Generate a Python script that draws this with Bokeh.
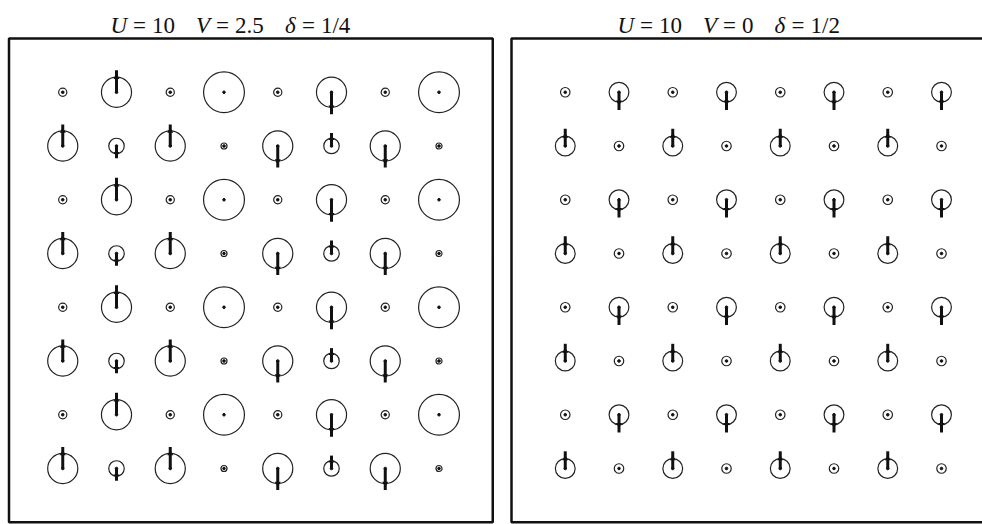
import numpy as np
from bokeh.plotting import figure
from bokeh.layouts import row
from bokeh.models import Range1d
from bokeh.core.properties import value
from bokeh.embed import file_html
from bokeh.resources import INLINE

# 8x8 lattice: column index 1..8, row index listed from top (8) to bottom (1)
lattice_cols = [1, 2, 3, 4, 5, 6, 7, 8]
lattice_rows = [8, 7, 6, 5, 4, 3, 2, 1]

# Panel A: U = 10, V = 2.5, delta = 1/4
density_a = [
    [0.19, 0.70, 0.19, 0.95, 0.19, 0.70, 0.19, 0.95],
    [0.70, 0.36, 0.70, 0.14, 0.70, 0.36, 0.70, 0.14],
    [0.19, 0.70, 0.19, 0.95, 0.19, 0.70, 0.19, 0.95],
    [0.70, 0.36, 0.70, 0.14, 0.70, 0.36, 0.70, 0.14],
    [0.19, 0.70, 0.19, 0.95, 0.19, 0.70, 0.19, 0.95],
    [0.70, 0.36, 0.70, 0.14, 0.70, 0.36, 0.70, 0.14],
    [0.19, 0.70, 0.19, 0.95, 0.19, 0.70, 0.19, 0.95],
    [0.70, 0.36, 0.70, 0.14, 0.70, 0.36, 0.70, 0.14],
]
spin_a = [
    [0.00, 0.41, 0.00, 0.00, 0.00, -0.41, 0.00, 0.00],
    [0.40, -0.23, 0.40, 0.00, -0.40, 0.24, -0.40, 0.00],
    [0.00, 0.41, 0.00, 0.00, 0.00, -0.41, 0.00, 0.00],
    [0.40, -0.23, 0.40, 0.00, -0.40, 0.24, -0.40, 0.00],
    [0.00, 0.41, 0.00, 0.00, 0.00, -0.41, 0.00, 0.00],
    [0.40, -0.23, 0.40, 0.00, -0.40, 0.24, -0.40, 0.00],
    [0.00, 0.41, 0.00, 0.00, 0.00, -0.41, 0.00, 0.00],
    [0.40, -0.23, 0.40, 0.00, -0.40, 0.24, -0.40, 0.00],
]

# Panel B: U = 10, V = 0, delta = 1/2
density_b = [
    [0.22, 0.46, 0.22, 0.46, 0.22, 0.46, 0.22, 0.46],
    [0.46, 0.22, 0.46, 0.22, 0.46, 0.22, 0.46, 0.22],
    [0.22, 0.46, 0.22, 0.46, 0.22, 0.46, 0.22, 0.46],
    [0.46, 0.22, 0.46, 0.22, 0.46, 0.22, 0.46, 0.22],
    [0.22, 0.46, 0.22, 0.46, 0.22, 0.46, 0.22, 0.46],
    [0.46, 0.22, 0.46, 0.22, 0.46, 0.22, 0.46, 0.22],
    [0.22, 0.46, 0.22, 0.46, 0.22, 0.46, 0.22, 0.46],
    [0.46, 0.22, 0.46, 0.22, 0.46, 0.22, 0.46, 0.22],
]
spin_b = [
    [0.00, -0.33, 0.00, -0.33, 0.00, -0.33, 0.00, -0.33],
    [0.32, 0.00, 0.32, 0.00, 0.32, 0.00, 0.32, 0.00],
    [0.00, -0.33, 0.00, -0.33, 0.00, -0.33, 0.00, -0.33],
    [0.32, 0.00, 0.32, 0.00, 0.32, 0.00, 0.32, 0.00],
    [0.00, -0.33, 0.00, -0.33, 0.00, -0.33, 0.00, -0.33],
    [0.32, 0.00, 0.32, 0.00, 0.32, 0.00, 0.32, 0.00],
    [0.00, -0.33, 0.00, -0.33, 0.00, -0.33, 0.00, -0.33],
    [0.32, 0.00, 0.32, 0.00, 0.32, 0.00, 0.32, 0.00],
]

# title tokens: (text, italic?) for each panel
title_a = [("U", True), ("=", False), ("10", False), ("V", True), ("=", False),
           ("2.5", False), ("δ", True), ("=", False), ("1/4", False)]
title_b = [("U", True), ("=", False), ("10", False), ("V", True), ("=", False),
           ("0", False), ("δ", True), ("=", False), ("1/2", False)]

RADIUS_SCALE = 0.40   # lattice units of circle radius per unit density
SPIN_SCALE = 1.0      # lattice units of arrow length per unit Sz
PX = 53.75            # pixels per lattice spacing
HEIGHT = 524
BOX_TOP_PX = 38
FONT = "Liberation Serif"


def panel(density, spin, title, width, box_left_px, title_px):
    x0 = -box_left_px / PX
    x1 = x0 + width / PX
    y1 = 9 + BOX_TOP_PX / PX
    y0 = y1 - HEIGHT / PX
    p = figure(width=width, height=HEIGHT,
               x_range=Range1d(x0, x1), y_range=Range1d(y0, y1),
               output_backend="svg", toolbar_location=None,
               x_axis_location=None, y_axis_location=None,
               min_border=0, background_fill_color="white",
               border_fill_color="white")
    p.grid.visible = False
    p.outline_line_color = None

    # frame of the lattice
    p.quad(left=[0], right=[9], bottom=[0], top=[9], fill_color=None,
           line_color="#111111", line_width=2.5)

    xs, ys, rs, ss = [], [], [], []
    for i, yy in enumerate(lattice_rows):
        for j, xx in enumerate(lattice_cols):
            xs.append(xx)
            ys.append(yy)
            rs.append(RADIUS_SCALE * density[i][j])
            ss.append(SPIN_SCALE * spin[i][j])
    xs, ys, rs, ss = map(np.array, (xs, ys, rs, ss))

    # charge density as circle radius
    p.circle(x=xs, y=ys, radius=rs, fill_color=None,
             line_color="#222222", line_width=1.2)
    p.scatter(x=xs, y=ys, size=2.6, marker="circle", color="#111111")

    # spin as vertical arrow
    m = ss != 0
    p.segment(x0=xs[m], y0=ys[m], x1=xs[m], y1=ys[m] + ss[m],
              line_color="#111111", line_width=3)
    sgn = np.sign(ss[m])
    p.scatter(x=xs[m], y=ys[m] + sgn * rs[m], marker="triangle", size=6,
              angle=np.where(sgn > 0, 0.0, np.pi), color="#111111",
              line_width=0)

    # title written as separate math-style tokens
    base_y = y1 - 25 / PX
    for (txt, ital), px in zip(title, title_px):
        p.text(x=[x0 + px / PX], y=[base_y], text=[txt],
               text_font=value(FONT),
               text_font_style="italic" if ital else "normal",
               text_font_size="23px", text_color="#111111",
               text_baseline="alphabetic", text_align="left")
    return p


pa = panel(density_a, spin_a, title_a, 500, 8.5,
           [110, 132.6, 151.6, 195.6, 215.6, 234.6, 284.4, 301.4, 320.4])
pb = panel(density_b, spin_b, title_b, 482, 11,
           [117, 139.6, 158.6, 202.6, 222.6, 241.6, 274, 291, 310])

layout = row(pa, pb, spacing=0)
open("out.html", "w").write(file_html(layout, INLINE))
